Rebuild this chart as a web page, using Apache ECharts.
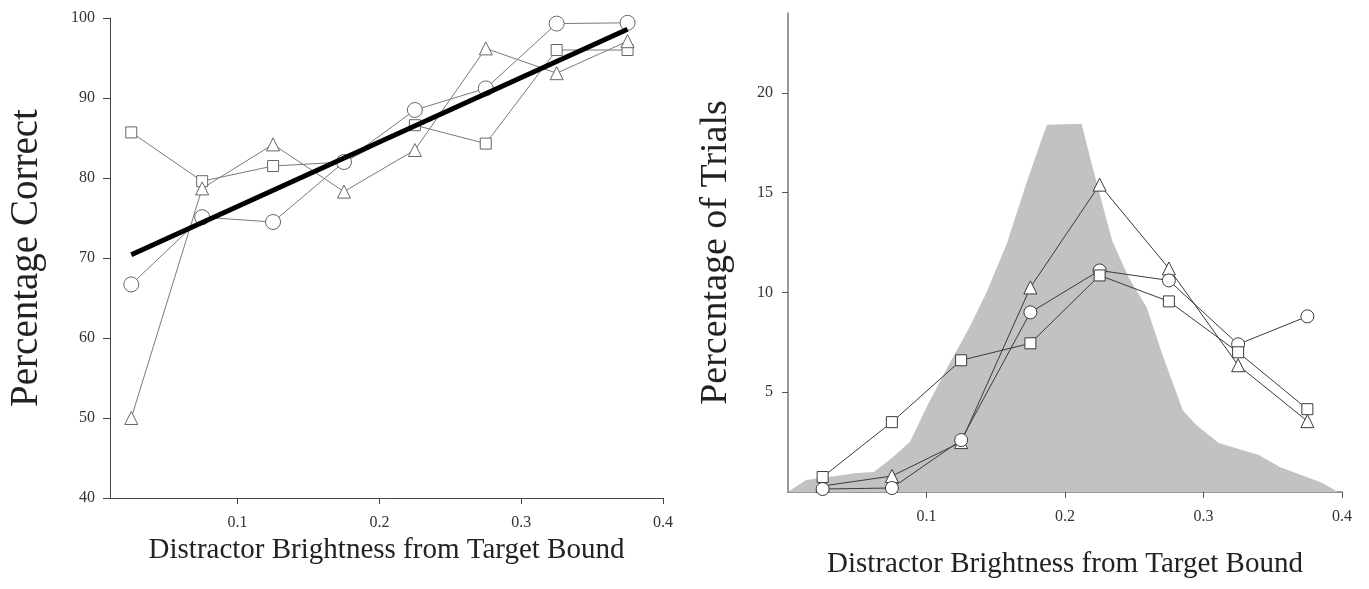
<!DOCTYPE html>
<html>
<head>
<meta charset="utf-8">
<script src="https://cdn.jsdelivr.net/npm/echarts@6/dist/echarts.min.js"></script>
<style>
html,body{margin:0;padding:0;background:#fff;}
#chart{width:1369px;height:589px;}
</style>
</head>
<body>
<div id="chart"></div>
<script>
// ---- shared x positions (bin centres) ----
const binX = [0.025, 0.075, 0.125, 0.175, 0.225, 0.275, 0.325, 0.375];

// ---- left panel: Percentage Correct ----
const leftSquare   = [85.7, 79.6, 81.5, 82.0, 86.6, 84.3, 96.0, 96.0];
const leftCircle   = [66.7, 75.1, 74.5, 82.0, 88.5, 91.2, 99.3, 99.4];
const leftTriangle = [50.0, 78.7, 84.2, 78.3, 83.5, 96.2, 93.1, 97.1];
const fitX = [0.025, 0.375];
const fitY = [70.4, 98.6];
const leftYTicks = [40, 50, 60, 70, 80, 90, 100];
const xTickValues = [0.1, 0.2, 0.3, 0.4];

// ---- right panel: Percentage of Trials ----
const rightSquare   = [0.75, 3.5, 6.6, 7.45, 10.85, 9.55, 7.0, 4.15];
const rightCircle   = [0.15, 0.2, 2.6, 9.0, 11.1, 10.6, 7.4, 8.8];
const rightTriangle = [0.3, 0.8, 2.5, 10.25, 15.4, 11.2, 6.35, 3.55];
const rightYTicks = [5, 10, 15, 20];
// grey distribution outline
const distX = [0.0, 0.013, 0.05, 0.062, 0.075, 0.088, 0.1, 0.114, 0.131, 0.143, 0.158, 0.172, 0.182, 0.187, 0.212, 0.22, 0.234, 0.246, 0.259, 0.27, 0.285, 0.295, 0.311, 0.34, 0.355, 0.386, 0.397];
const distY = [0.0, 0.6, 0.95, 1.0, 1.7, 2.5, 4.25, 6.1, 8.25, 9.95, 12.45, 15.45, 17.45, 18.4, 18.45, 16.25, 12.6, 10.75, 9.25, 6.95, 4.1, 3.35, 2.45, 1.85, 1.25, 0.45, 0.0];

const zip = (xs, ys) => xs.map((x, i) => [x, ys[i]]);
const FONT = '"Liberation Serif", "DejaVu Serif", serif';

function markerSeries(name, xIdx, ys, symbol, size, lineColor, borderColor, z) {
  return {
    name: name, type: 'line', xAxisIndex: xIdx, yAxisIndex: xIdx,
    data: zip(binX, ys), symbol: symbol, symbolSize: size, showSymbol: true,
    lineStyle: {color: lineColor, width: 1},
    itemStyle: {color: '#fff', borderColor: borderColor, borderWidth: 1},
    z: z, animation: false
  };
}

const axisLabelStyle = {fontFamily: FONT, fontSize: 16, color: '#333'};

const option = {
  animation: false,
  backgroundColor: '#fff',
  grid: [
    {left: 110, top: 18, width: 553, height: 480},
    {left: 788, top: 13, width: 554, height: 479}
  ],
  xAxis: [
    {
      type: 'value', gridIndex: 0, min: 0.01, max: 0.4,
      name: 'Distractor Brightness from Target Bound', nameLocation: 'middle', nameGap: 38,
      nameTextStyle: {fontFamily: FONT, fontSize: 29, color: '#222'},
      axisLine: {show: true, lineStyle: {color: '#444', width: 1}},
      axisTick: {show: true, inside: false, length: 6, customValues: xTickValues, lineStyle: {color: '#444'}},
      axisLabel: Object.assign({margin: 17, customValues: xTickValues}, axisLabelStyle),
      splitLine: {show: false}
    },
    {
      type: 'value', gridIndex: 1, min: 0, max: 0.4,
      name: 'Distractor Brightness from Target Bound', nameLocation: 'middle', nameGap: 58,
      nameTextStyle: {fontFamily: FONT, fontSize: 29, color: '#222'},
      axisLine: {show: true, lineStyle: {color: '#777', width: 1.5}},
      axisTick: {show: true, inside: false, length: 6, customValues: xTickValues, lineStyle: {color: '#555'}},
      axisLabel: Object.assign({margin: 17, customValues: xTickValues}, axisLabelStyle),
      splitLine: {show: false}
    }
  ],
  yAxis: [
    {
      type: 'value', gridIndex: 0, min: 40, max: 100, interval: 10,
      name: 'Percentage Correct', nameLocation: 'middle', nameGap: 64, nameRotate: 90,
      nameTextStyle: {fontFamily: FONT, fontSize: 39, color: '#222'},
      axisLine: {show: true, lineStyle: {color: '#444', width: 1}},
      axisTick: {show: true, inside: false, length: 7, customValues: leftYTicks, lineStyle: {color: '#444'}},
      axisLabel: Object.assign({margin: 15, customValues: leftYTicks}, axisLabelStyle),
      splitLine: {show: false}
    },
    {
      type: 'value', gridIndex: 1, min: 0, max: 24,
      name: 'Percentage of Trials', nameLocation: 'middle', nameGap: 53, nameRotate: 90,
      nameTextStyle: {fontFamily: FONT, fontSize: 38, color: '#222'},
      axisLine: {show: true, lineStyle: {color: '#777', width: 1.5}},
      axisTick: {show: true, inside: false, length: 6, customValues: rightYTicks, lineStyle: {color: '#555'}},
      axisLabel: Object.assign({margin: 15, customValues: rightYTicks}, axisLabelStyle),
      splitLine: {show: false}
    }
  ],
  series: [
    // left panel
    markerSeries('sq-L', 0, leftSquare, 'rect', 11, '#7a7a7a', '#666', 3),
    markerSeries('ci-L', 0, leftCircle, 'circle', 15, '#7a7a7a', '#666', 3),
    markerSeries('tr-L', 0, leftTriangle, 'triangle', 13, '#7a7a7a', '#666', 3),
    {
      name: 'fit', type: 'line', xAxisIndex: 0, yAxisIndex: 0,
      data: zip(fitX, fitY), symbol: 'none',
      lineStyle: {color: '#000', width: 5}, z: 5, animation: false
    },
    // right panel
    {
      name: 'dist', type: 'line', xAxisIndex: 1, yAxisIndex: 1,
      data: zip(distX, distY), symbol: 'none',
      lineStyle: {width: 0, color: '#c2c2c2'},
      areaStyle: {color: '#c2c2c2', opacity: 1}, z: 1, animation: false
    },
    markerSeries('tr-R', 1, rightTriangle, 'triangle', 13, '#3a3a3a', '#3a3a3a', 3),
    markerSeries('ci-R', 1, rightCircle, 'circle', 13, '#3a3a3a', '#3a3a3a', 3),
    markerSeries('sq-R', 1, rightSquare, 'rect', 11, '#3a3a3a', '#3a3a3a', 3)
  ]
};

const chart = echarts.init(document.getElementById('chart'), null, {renderer: 'canvas'});
chart.setOption(option);
</script>
</body>
</html>
